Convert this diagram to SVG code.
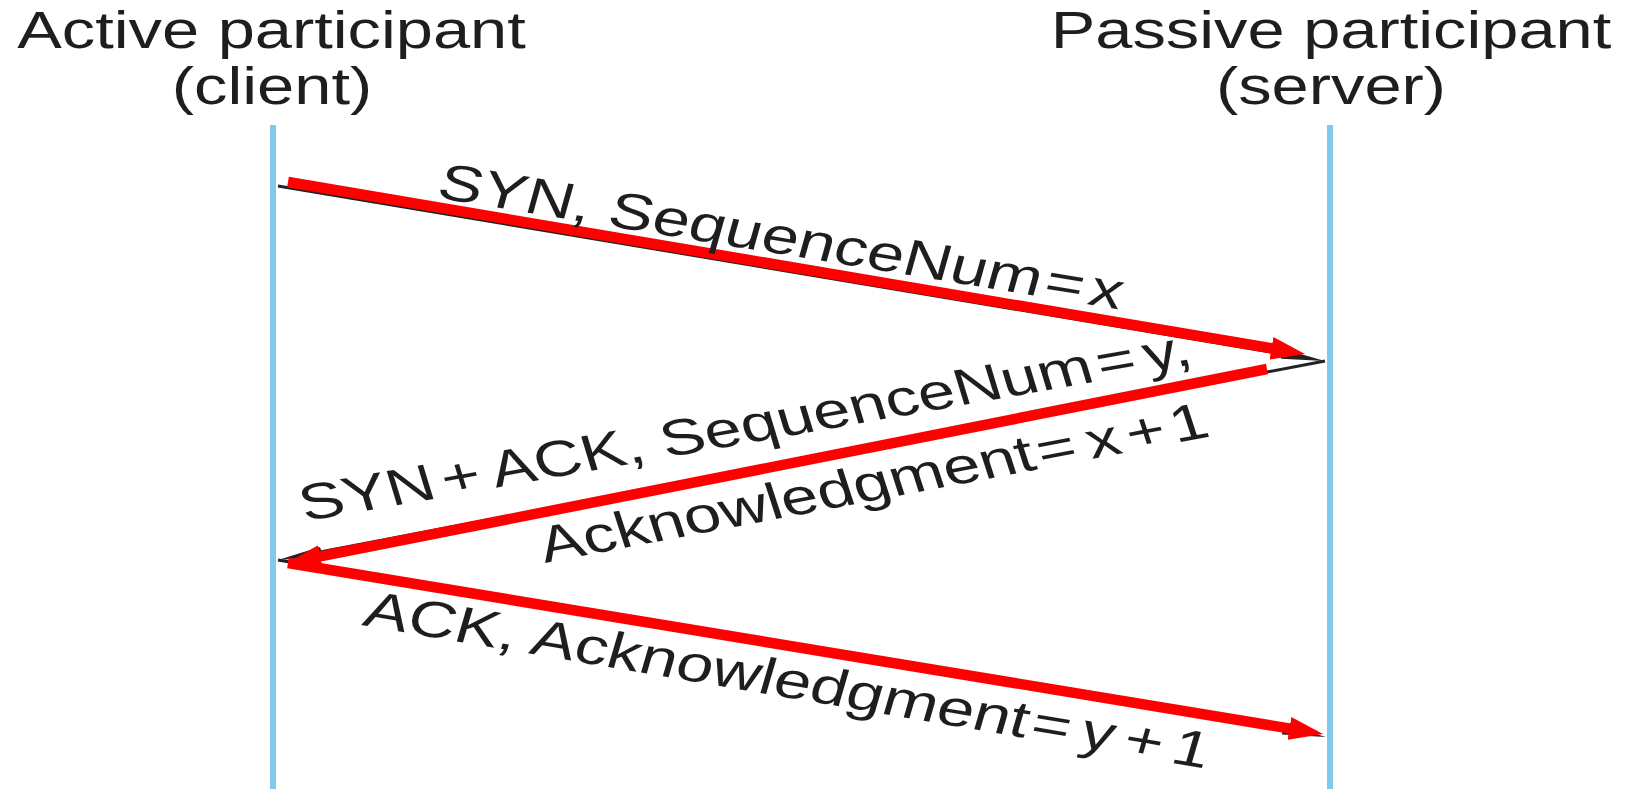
<svg xmlns="http://www.w3.org/2000/svg" width="1634" height="789" viewBox="0 0 1634 789">
  <style>
    .hdr { font-family: "Liberation Sans", Arial, sans-serif; font-size: 51px; fill: #1e1e1e; text-anchor: middle; }
    .lbl { font-family: "Liberation Sans", Arial, sans-serif; font-size: 51px; fill: #1e1e1e; }
    .life { stroke: #80c9e8; stroke-width: 6; fill: none; }
    .blk { stroke: #222222; stroke-width: 3; fill: none; }
    .red { stroke: #ff0000; stroke-width: 10.5; fill: none; stroke-linecap: butt; }
  </style>
  <defs>
    <marker id="redHead" viewBox="0 -11.5 34 23" refX="4" refY="0" markerWidth="34" markerHeight="23" markerUnits="userSpaceOnUse" orient="auto">
      <path d="M0,-11.5 L34,0 L0,11.5 z" fill="#ff0000"/>
    </marker>
    <marker id="blkHead" viewBox="0 -5 44 10" refX="4" refY="0" markerWidth="44" markerHeight="10" markerUnits="userSpaceOnUse" orient="auto">
      <path d="M0,-5 L44,0 L0,5 z" fill="#222222"/>
    </marker>
  </defs>
  <rect width="1634" height="789" fill="#ffffff"/>

  <g id="client">
    <line class="life" x1="273" y1="125" x2="273" y2="789"/>
    <text class="hdr" transform="translate(271.5,48) scale(1.31,1)">Active participant</text>
    <text class="hdr" transform="translate(272,104) scale(1.31,1)">(client)</text>
  </g>

  <g id="server">
    <line class="life" x1="1330" y1="125" x2="1330" y2="789"/>
    <text class="hdr" transform="translate(1331,48) scale(1.31,1)">Passive participant</text>
    <text class="hdr" transform="translate(1331,104) scale(1.31,1)">(server)</text>
  </g>

  <g id="connectors">
    <g id="syn">
      <line class="blk" x1="278" y1="186" x2="1285.5" y2="354.4" marker-end="url(#blkHead)"/>
      <line class="red" x1="288" y1="182" x2="1275.4" y2="349" marker-end="url(#redHead)"/>
      <text class="lbl" transform="translate(435,197.5) scale(1.31,1) rotate(12.09)">SYN, SequenceNum<tspan dx="3">=</tspan><tspan dx="5">x</tspan></text>
    </g>
    <g id="synack">
      <line class="blk" x1="1325" y1="361" x2="317.3" y2="552.5" marker-end="url(#blkHead)"/>
      <line class="red" x1="1267" y1="369" x2="316.4" y2="557.2" marker-end="url(#redHead)"/>
      <text class="lbl" transform="translate(305,521.5) scale(1.31,1) rotate(-13.05)">SYN<tspan dx="6">+</tspan><tspan dx="9">ACK,</tspan> SequenceNum<tspan dx="4">=</tspan><tspan dx="7">y,</tspan></text>
      <text class="lbl" transform="translate(545,563) scale(1.31,1) rotate(-13.98)">Acknowledgment<tspan dx="3">=</tspan><tspan dx="9">x</tspan><tspan dx="6">+</tspan><tspan dx="5">1</tspan></text>
    </g>
    <g id="ack">
      <line class="blk" x1="278" y1="560" x2="1286.6" y2="730.3" marker-end="url(#blkHead)"/>
      <line class="red" x1="288" y1="563" x2="1293.4" y2="729.1" marker-end="url(#redHead)"/>
      <text class="lbl" transform="translate(361,625) scale(1.31,1) rotate(12.56)">ACK, Acknowledgment<tspan dx="3">=</tspan><tspan dx="9">y</tspan><tspan dx="8">+</tspan><tspan dx="8">1</tspan></text>
    </g>
  </g>
</svg>
